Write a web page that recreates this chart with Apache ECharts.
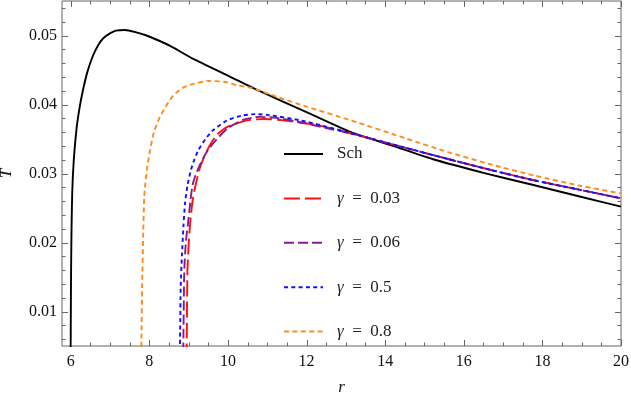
<!DOCTYPE html>
<html>
<head>
<meta charset="utf-8">
<script src="https://cdn.jsdelivr.net/npm/echarts@6/dist/echarts.min.js"></script>
<style>html,body{margin:0;padding:0;background:#fff}#c{width:631px;height:393px}</style>
</head>
<body>
<div id="c"></div>
<script>
const xTicks = [6, 8, 10, 12, 14, 16, 18, 20];
const yTicks = [0.01, 0.02, 0.03, 0.04, 0.05];
const seriesNames = ['Sch', 'γ = 0.03', 'γ = 0.06', 'γ = 0.5', 'γ = 0.8'];

const schR = [6.0, 6.003, 6.01, 6.02, 6.04, 6.08, 6.15, 6.22, 6.31, 6.43, 6.57, 6.7, 6.83, 7.0, 7.15, 7.38, 7.65, 7.93, 8.53, 9.12, 10.0, 10.83, 12.0, 13.13, 14.2, 15.2, 16.5, 17.72, 19.0, 20.0];
const schT = [0.0, 0.008, 0.015, 0.021, 0.0272, 0.032, 0.0365, 0.0393, 0.042, 0.0448, 0.0471, 0.0486, 0.0496, 0.0503, 0.0507, 0.0508, 0.0505, 0.0500, 0.0485, 0.0466, 0.0442, 0.0419, 0.0389, 0.0360, 0.0340, 0.0321, 0.0301, 0.0284, 0.0266, 0.0252];

const g003R = [8.94, 8.955, 8.97, 9.0, 9.04, 9.1, 9.17, 9.27, 9.38, 9.55, 9.72, 10.0, 10.49, 10.91, 11.4, 12.28, 13.13, 14.4, 15.6, 16.7, 17.72, 18.9, 20.0];
const g003T = [0.0, 0.007, 0.0157, 0.0195, 0.0228, 0.026, 0.0281, 0.0305, 0.0322, 0.0342, 0.0356, 0.0368, 0.0377, 0.0379, 0.0377, 0.0370, 0.0358, 0.0339, 0.0321, 0.0305, 0.0291, 0.0277, 0.0264];

const g006R = [8.855, 8.87, 8.89, 8.93, 9.0, 9.05, 9.1, 9.18, 9.30, 9.45, 9.63, 9.98, 10.4, 10.8, 11.17, 11.7, 12.5, 13.13, 14.4, 15.6, 16.7, 17.72, 18.9, 20.0];
const g006T = [0.0, 0.007, 0.0157, 0.020, 0.0235, 0.0262, 0.0283, 0.0298, 0.0314, 0.0330, 0.0344, 0.0365, 0.0378, 0.0382, 0.0381, 0.0376, 0.0366, 0.0358, 0.0339, 0.0321, 0.0305, 0.0291, 0.0277, 0.0264];

const g05R = [8.77, 8.785, 8.80, 8.83, 8.87, 8.91, 8.97, 9.05, 9.12, 9.25, 9.43, 9.63, 9.98, 10.36, 10.7, 11.0, 11.85, 12.7, 13.55, 14.4, 15.6, 16.7, 17.72, 18.9, 20.0];
const g05T = [0.0, 0.007, 0.0137, 0.0181, 0.0224, 0.0257, 0.0282, 0.0303, 0.0316, 0.0334, 0.0350, 0.0363, 0.0377, 0.0384, 0.0386, 0.0385, 0.0377, 0.0365, 0.0352, 0.0339, 0.0321, 0.0305, 0.0291, 0.0277, 0.0264];

const g08R = [7.79, 7.80, 7.82, 7.845, 7.87, 7.90, 7.95, 8.02, 8.12, 8.27, 8.45, 8.61, 8.85, 9.12, 9.5, 9.9, 10.23, 10.6, 11.25, 12.0, 13.13, 14.57, 15.6, 16.7, 17.8, 18.9, 20.0];
const g08T = [0.0, 0.006, 0.014, 0.021, 0.0265, 0.0285, 0.031, 0.0334, 0.036, 0.0382, 0.0400, 0.0413, 0.0424, 0.0430, 0.0434, 0.0433, 0.0428, 0.0424, 0.0411, 0.0397, 0.0377, 0.0350, 0.0331, 0.0313, 0.0297, 0.0283, 0.0271];

const X_MIN = 5.78, X_MAX = 20, Y_MIN = 0.005, Y_MAX = 0.055;
const xMinor = [];
for (let k = 12; k <= 40; k++) { if (k % 4 !== 0) xMinor.push(k / 2); }
const yMinor = [];
for (let k = 3; k <= 27; k++) { if (k % 5 !== 0) yMinor.push(+(k * 0.002).toFixed(3)); }

const FONT = '"Liberation Serif", "DejaVu Serif", serif';
const AX = '#666';
const MAJOR = 6, MINOR = 3.5;
const zip = (a, b) => a.map((v, i) => [v, b[i]]);

const styles = [
  { color: '#000000', type: 'solid' },
  { color: '#ff1010', type: [16, 5] },
  { color: '#8a1a8f', type: [10, 4] },
  { color: '#1010ff', type: [4, 3.3] },
  { color: '#ff8c1a', type: [5, 3.4] }
];
const datas = [zip(schR, schT), zip(g003R, g003T), zip(g006R, g006T), zip(g05R, g05T), zip(g08R, g08T)];

const series = datas.map((d, i) => ({
  name: seriesNames[i], type: 'line', data: d,
  symbol: 'none', showSymbol: false, smooth: 0.2, clip: true,
  lineStyle: { color: styles[i].color, width: 1.9, type: styles[i].type },
  itemStyle: { color: styles[i].color },
  z: 3 + i
}));

// tick marks on all four sides, placed through the axes' scales
const xTickData = xTicks.map(v => [v, Y_MIN, MAJOR]).concat(xMinor.map(v => [v, Y_MIN, MINOR]));
const yTickData = yTicks.map(v => [X_MIN, v, MAJOR]).concat(yMinor.map(v => [X_MIN, v, MINOR]));
const tickStyle = { stroke: AX, lineWidth: 1 };
series.push({
  type: 'custom', name: 'xticks', data: xTickData, encode: { x: 0, y: 1 }, clip: false, silent: true, z: 10,
  renderItem: (params, api) => {
    const cs = params.coordSys;
    const x = Math.round(api.coord([api.value(0), Y_MIN])[0]) + 0.5;
    const len = api.value(2);
    const yb = cs.y + cs.height, yt = cs.y;
    return { type: 'group', children: [
      { type: 'line', shape: { x1: x, y1: yb, x2: x, y2: yb - len }, style: tickStyle },
      { type: 'line', shape: { x1: x, y1: yt, x2: x, y2: yt + len }, style: tickStyle }
    ] };
  }
});
series.push({
  type: 'custom', name: 'yticks', data: yTickData, encode: { x: 0, y: 1 }, clip: false, silent: true, z: 10,
  renderItem: (params, api) => {
    const cs = params.coordSys;
    const y = Math.round(api.coord([X_MIN, api.value(1)])[1]) + 0.5;
    const len = api.value(2);
    const xl = cs.x, xr = cs.x + cs.width;
    return { type: 'group', children: [
      { type: 'line', shape: { x1: xl, y1: y, x2: xl + len, y2: y }, style: tickStyle },
      { type: 'line', shape: { x1: xr, y1: y, x2: xr - len, y2: y }, style: tickStyle }
    ] };
  }
});

const chart = echarts.init(document.getElementById('c'), null, { renderer: 'canvas' });
chart.setOption({
  animation: false,
  backgroundColor: '#fff',
  grid: { left: 62, right: 10, top: 1, bottom: 47, containLabel: false, outerBoundsMode: 'none',
    show: true, borderColor: AX, borderWidth: 1, backgroundColor: 'transparent' },
  xAxis: {
    type: 'value', min: X_MIN, max: X_MAX,
    axisLine: { show: false }, axisTick: { show: false }, splitLine: { show: false },
    axisLabel: { show: true, customValues: xTicks, margin: 8, fontFamily: FONT, fontSize: 16, color: '#111' },
    name: 'r', nameLocation: 'middle', nameGap: 33,
    nameTextStyle: { fontFamily: FONT, fontStyle: 'italic', fontSize: 17, color: '#111' }
  },
  yAxis: {
    type: 'value', min: Y_MIN, max: Y_MAX,
    axisLine: { show: false }, axisTick: { show: false }, splitLine: { show: false },
    axisLabel: { show: true, customValues: yTicks, margin: 5, fontFamily: FONT, fontSize: 16, color: '#111', formatter: v => v.toFixed(2) },
    name: 'T', nameLocation: 'middle', nameGap: 47, nameRotate: 90,
    nameTextStyle: { fontFamily: FONT, fontStyle: 'italic', fontSize: 17, color: '#111' }
  },
  legend: {
    orient: 'vertical', left: 283, top: 145.5, padding: 0, itemWidth: 39, itemHeight: 14, itemGap: 27.4,
    data: seriesNames,
    itemStyle: { opacity: 0, color: 'transparent', borderWidth: 0 },
    formatter: n => n.indexOf('γ') === 0 ? '{i|γ}{n|  =  ' + n.slice(4) + '}' : '{n|' + n + '}',
    textStyle: { fontFamily: FONT, fontSize: 17, color: '#222', padding: [0, 0, 0, 9],
      rich: {
        i: { fontFamily: FONT, fontStyle: 'italic', fontSize: 17, color: '#222' },
        n: { fontFamily: FONT, fontSize: 17, color: '#222' }
      } },
    selectedMode: false
  },
  series: series
});
</script>
</body>
</html>
